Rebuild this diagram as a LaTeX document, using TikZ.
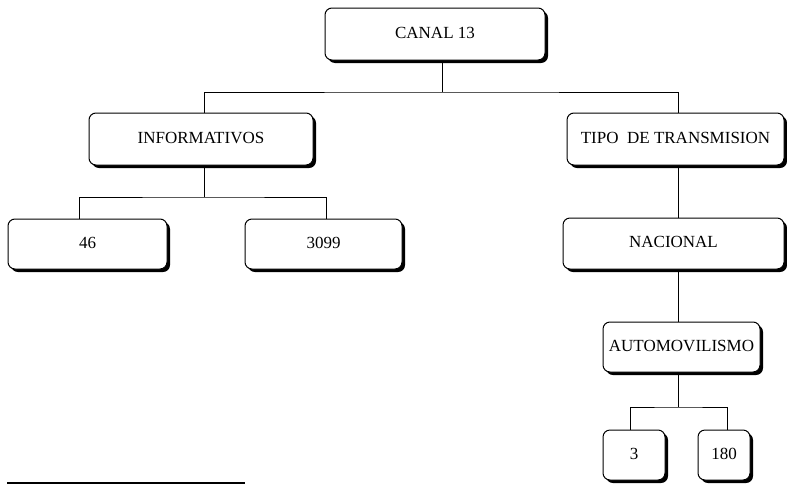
\documentclass[tikz,border=0pt]{standalone}
\usepackage{fontspec}
\setmainfont{Liberation Serif}
\usetikzlibrary{shadows,positioning}
\tikzset{every picture/.style={line width=0.75pt}}
\tikzset{
  caja/.style={draw, line width=1pt, rounded corners=7pt, fill=white,
    drop shadow={shadow xshift=3pt, shadow yshift=-3pt, fill=black, opacity=1},
    font=\fontsize{17}{20}\selectfont, inner sep=0pt, text depth=3pt},
  rama/.style={line width=1pt}
}

\begin{document}
\begin{tikzpicture}[x=1pt,y=-1pt]
    \useasboundingbox (0,0) rectangle (787,485);

    % raiz
    \node[caja, minimum width=220pt, minimum height=52pt] (canal) at (435,34) {CANAL 13};

    % primer nivel
    \node[caja, minimum width=224pt, minimum height=52pt] (info) at (201,139) {INFORMATIVOS};
    \node[caja, minimum width=217pt, minimum height=52pt] (tipo) at (675.5,139) {TIPO\ \ DE TRANSMISION};

    % hijos de informativos
    \node[caja, minimum width=159pt, minimum height=50pt] (n46) at (87.5,244) {46};
    \node[caja, minimum width=157pt, minimum height=50pt] (n3099) at (323.5,244) {3099};

    % rama de transmision
    \node[caja, minimum width=221pt, minimum height=51pt] (nacional) at (673.5,243.5) {NACIONAL};
    \node[caja, minimum width=157pt, minimum height=50pt] (auto) at (681.5,347) {AUTOMOVILISMO};
    \node[caja, minimum width=62pt, minimum height=50pt] (n3) at (634,455) {3};
    \node[caja, minimum width=52pt, minimum height=50pt] (n180) at (724,455) {180};

    % puntos de union
    \coordinate (j1) at (442,92);
    \coordinate (j2) at (204,197);
    \coordinate (j3) at (678,92);
    \coordinate (j4) at (678,407);

    % conectores
    \draw[rama] (j1 |- canal.south) -- (j1);
    \draw[rama] (j2 |- info.north) |- (j1) -| (j3 |- tipo.north);
    \draw[rama] (j2 |- info.south) -- (j2);
    \draw[rama] ([xshift=-8.5pt]n46.north) |- (j2) -| ([xshift=2.5pt]n3099.north);
    \draw[rama] (j3 |- tipo.south) -- (j3 |- nacional.north);
    \draw[rama] (j3 |- nacional.south) -- (j3 |- auto.north);
    \draw[rama] (j3 |- auto.south) -- (j4);
    \draw[rama] ([xshift=-4pt]n3.north) |- (j4) -| ([xshift=3pt]n180.north);

    % linea inferior
    \coordinate (l1) at (7,483);
    \coordinate (l2) at (245,483);
    \draw[line width=1.5pt] (l1) -- (l2);
\end{tikzpicture}
\end{document}
